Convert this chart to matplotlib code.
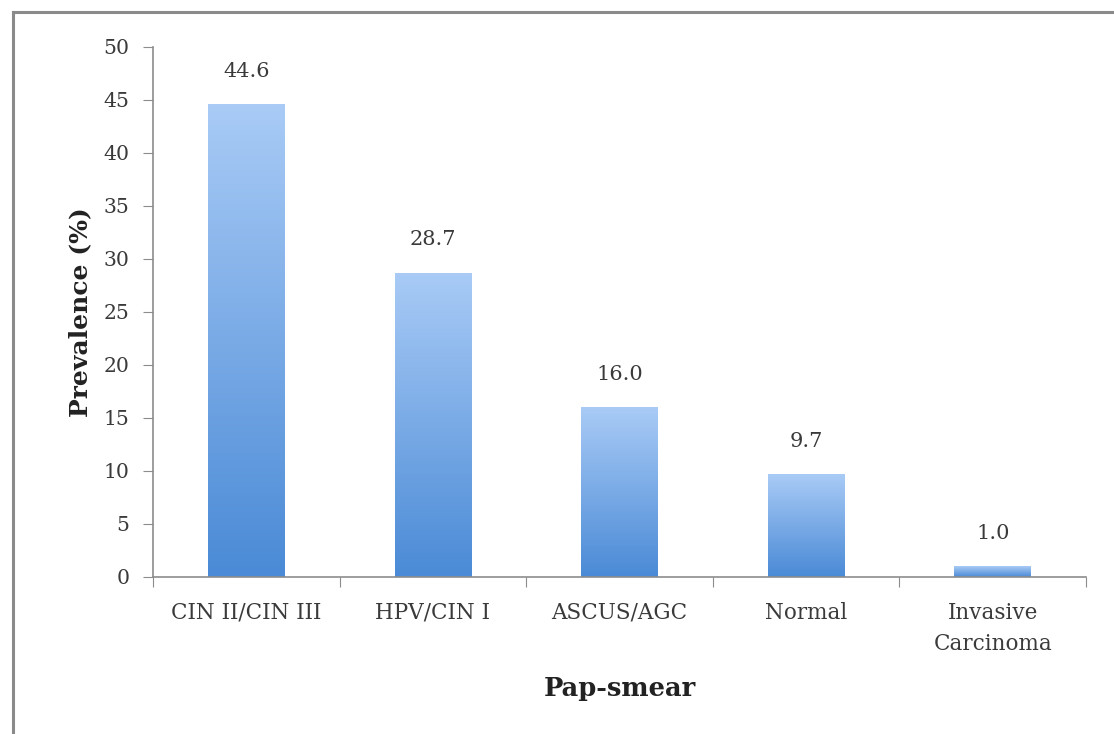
import matplotlib
matplotlib.use("Agg")
import matplotlib.pyplot as plt
import numpy as np
from matplotlib.colors import LinearSegmentedColormap
from matplotlib.lines import Line2D

categories = ["CIN II/CIN III", "HPV/CIN I", "ASCUS/AGC", "Normal", "Invasive\nCarcinoma"]
prevalence = [44.6, 28.7, 16.0, 9.7, 1.0]
y_ticks = [0, 5, 10, 15, 20, 25, 30, 35, 40, 45, 50]

plt.rcParams["font.family"] = ["DejaVu Serif"]
text_color = "#3a3a3a"
spine_color = "#8c8c8c"

fig = plt.figure(figsize=(11.14, 7.34), dpi=100)
ax = fig.add_axes([0.1373, 0.2139, 0.8376, 0.7221])

# frame lines along the left and top edges of the figure
fig.add_artist(Line2D([0.0117, 0.0117], [0, 0.984], transform=fig.transFigure,
                      color="#8a8a8a", lw=2.2))
fig.add_artist(Line2D([0.0117, 1.0], [0.984, 0.984], transform=fig.transFigure,
                      color="#8a8a8a", lw=2.2))

grad = LinearSegmentedColormap.from_list("barfill", ["#4a8ad6", "#a9cbf6"])
gradient = np.linspace(0, 1, 256).reshape(-1, 1)

x = np.arange(len(categories))
width = 0.41
bars = ax.bar(x, prevalence, width=width, color="none", edgecolor="none", zorder=2)
for rect, val in zip(bars, prevalence):
    x0 = rect.get_x()
    im = ax.imshow(gradient, cmap=grad, aspect="auto", origin="lower",
                   extent=[x0, x0 + rect.get_width(), 0, rect.get_height()],
                   zorder=2, interpolation="bilinear")
    im.set_clip_path(rect)
    ax.annotate(f"{val:.1f}", (rect.get_x() + rect.get_width() / 2, val),
                xytext=(0, 17), textcoords="offset points", ha="center",
                va="bottom", fontsize=15, color=text_color)

ax.set_xlim(-0.5, len(categories) - 0.5)
ax.set_ylim(0, 50)
ax.set_yticks(y_ticks)
ax.set_yticklabels([str(t) for t in y_ticks], fontsize=14.7, color=text_color)

# category boundaries carry the tick marks; labels sit at the centres
ax.set_xticks(np.arange(-0.5, len(categories), 1.0))
ax.set_xticklabels([])
ax.set_xticks(x, minor=True)
ax.set_xticklabels(categories, minor=True, fontsize=15.5, color=text_color,
                   linespacing=1.55, va="top")
ax.tick_params(axis="x", which="minor", length=0, pad=18)
ax.tick_params(axis="x", which="major", length=7, color=spine_color, direction="out")
ax.tick_params(axis="y", length=7, color=spine_color, direction="out", pad=10)

for side in ["top", "right"]:
    ax.spines[side].set_visible(False)
for side in ["left", "bottom"]:
    ax.spines[side].set_color(spine_color)
    ax.spines[side].set_linewidth(1.2)

ax.set_ylabel("Prevalence (%)", fontsize=18, fontweight="bold", color="#222222", labelpad=8)
ax.set_xlabel("Pap-smear", fontsize=18.5, fontweight="bold", color="#222222", labelpad=15)

fig.savefig("out.png", dpi=100, facecolor="white")
